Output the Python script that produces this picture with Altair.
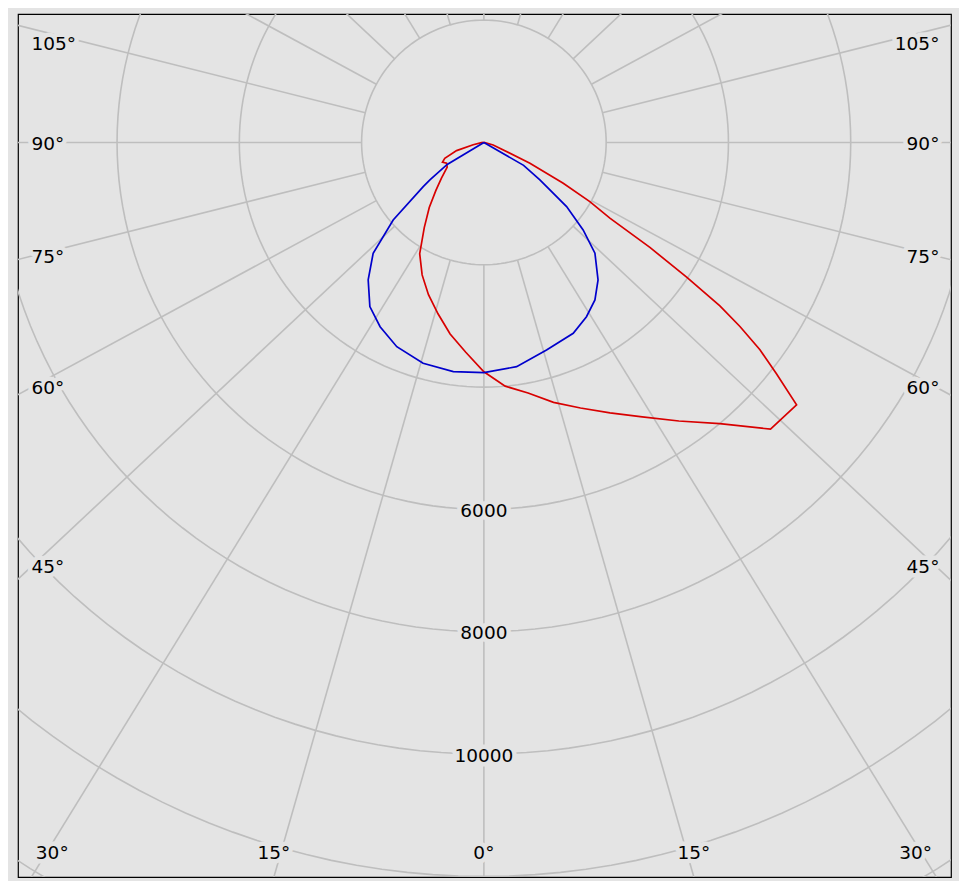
import altair as alt
import pandas as pd

# ---- data (angle in degrees, negative = left side; intensity in cd) ----
red_angle = [-90, -85, -77.9, -73.3, -68, -64.5, -61, -56, -50, -45, -40, -35, -30, -25, -20,
             -15, -10, -5, 0, 5, 10, 15, 20, 25, 30, 35, 40, 45, 50, 51.7, 53.1, 54.3, 55.3,
             56.4, 57.7, 59.0, 60.8, 62.8, 65.7, 75, 90]
red_value = [0, 40, 179, 466, 690, 750, 698, 724, 906, 1110, 1390, 1700, 2100, 2390, 2650,
             2900, 3180, 3440, 3750, 4000, 4160, 4400, 4620, 4880, 5180, 5560, 6000, 6630, 6676,
             6094, 5646, 5157, 4695, 3987, 3212, 2404, 1985, 1459, 826, 157, 0]

blue_angle = [-90, -62, -59, -55.2, -53.9, -49.5, -45, -40.1, -34.8, -29.4, -23.1, -15.4, -7.6, 0,
              8.3, 16.8, 25.1, 30.5, 35.2, 39.7, 45.1, 48.6, 52.2, 56.2, 60, 62, 90]
blue_value = [0, 0, 700, 1075, 1228, 1951, 2561, 2938, 3268, 3458, 3631, 3744, 3781, 3764,
              3705, 3545, 3445, 3306, 3151, 2923, 2564, 2164, 1712, 1102, 750, 0, 0]

ring_values = [2000, 4000, 6000, 8000, 10000, 12000, 14000, 16000]
ring_label_values = [6000, 8000, 10000]
spoke_angles = list(range(0, 360, 15))
angle_label_degs = [-105, -90, -75, -60, -45, -30, -15, 0, 15, 30, 45, 60, 75, 90, 105]

# ---- styling / layout ----
BG = "#e4e4e4"
GRID = "#bebebe"
FONT = "DejaVu Sans"
K = 0.937            # spokes in the original are drawn slightly squeezed vertically
KS = 0.965           # label placement factor on the side edges
X_DOMAIN = [-7620, 7640]
Y_DOMAIN = [-12010, 2100]
W, H = 933, 863
LX = 7160            # side-label reference distance
LXL, LXR = -7400, 7450   # left / right anchor of side labels
LY = 11600           # bottom label line
LYF = 12010          # bottom frame
LXB = 7060           # clamp for bottom labels
LTOP = 1635          # highest side label

xs = alt.Scale(domain=X_DOMAIN, nice=False, zero=False)
ys = alt.Scale(domain=Y_DOMAIN, nice=False, zero=False)


def X(f):
    return alt.X(f, type="quantitative", scale=xs, axis=None)


def Y(f):
    return alt.Y(f, type="quantitative", scale=ys, axis=None)


# rings
ring_df = pd.DataFrame([(r, p) for r in ring_values for p in range(0, 361, 2)], columns=["ring", "phi"])
rings = alt.Chart(ring_df).transform_calculate(
    x="datum.ring*sin(datum.phi*PI/180)",
    y="-datum.ring*cos(datum.phi*PI/180)",
).mark_line(clip=True, stroke=GRID, strokeWidth=1.6).encode(
    x=X("x"), y=Y("y"), detail="ring:N", order="phi:Q"
)

# spokes
spoke_df = pd.DataFrame({"deg": spoke_angles})
spokes = alt.Chart(spoke_df).transform_calculate(
    sx="sin(datum.deg*PI/180)",
    sy=f"-{K}*cos(datum.deg*PI/180)",
).transform_calculate(
    n="sqrt(datum.sx*datum.sx + datum.sy*datum.sy)"
).transform_calculate(
    x0="2000*datum.sx/datum.n", y0="2000*datum.sy/datum.n",
    x1="30000*datum.sx/datum.n", y1="30000*datum.sy/datum.n",
).mark_rule(clip=True, stroke=GRID, strokeWidth=1.6).encode(
    x=X("x0"), y=Y("y0"), x2="x1:Q", y2="y1:Q"
)

# angle labels: on the side edges, or on the bottom edge
alab_df = pd.DataFrame({"deg": angle_label_degs,
                        "label": [f"{abs(d)}°" for d in angle_label_degs]})
alab_base = alt.Chart(alab_df).transform_calculate(
    s="sin(datum.deg*PI/180)",
    c="cos(datum.deg*PI/180)",
).transform_calculate(
    side_y=f"-{LX}/max(abs(datum.s),1e-9)*{KS}*datum.c",
).transform_calculate(
    pos=f"datum.side_y >= -{LY} ? (datum.s < 0 ? 'left' : 'right') : 'bottom'",
    bx=f"clamp({LYF}*datum.s/({K}*abs(datum.c)), -{LXB}, {LXB})",
).transform_calculate(
    lx=f"datum.pos == 'left' ? {LXL} : (datum.pos == 'right' ? {LXR} : datum.bx)",
    ly=f"datum.pos == 'bottom' ? -{LY} : min(datum.side_y, {LTOP})",
).encode(x=X("lx"), y=Y("ly"), text="label:N")

txt = dict(font=FONT, fontSize=18.5, baseline="middle", dy=1.5)
halo = dict(stroke=BG, strokeWidth=9, strokeJoin="round", color=BG)

label_layers = []
for pos, align in [("left", "left"), ("right", "right"), ("bottom", "center")]:
    part = alab_base.transform_filter(f"datum.pos == '{pos}'")
    label_layers.append(part.mark_text(align=align, **txt, **halo))
    label_layers.append(part.mark_text(align=align, **txt, color="black"))

# ring labels
rlab_df = pd.DataFrame({"v": ring_label_values})
rlab_base = alt.Chart(rlab_df).transform_calculate(
    rx="0", ry="-datum.v"
).encode(x=X("rx"), y=Y("ry"), text=alt.Text("v:Q", format="d"))
rlab_halo = rlab_base.mark_text(align="center", **txt, **halo)
rlab_text = rlab_base.mark_text(align="center", **txt, color="black")

# curves
curve_df = pd.concat([
    pd.DataFrame({"angle": red_angle, "cd": red_value, "plane": "C0-C180"}),
    pd.DataFrame({"angle": blue_angle, "cd": blue_value, "plane": "C90-C270"}),
], ignore_index=True)
curves = alt.Chart(curve_df).transform_calculate(
    x="datum.cd*sin(datum.angle*PI/180)",
    y="-datum.cd*cos(datum.angle*PI/180)",
).mark_line(clip=True, strokeWidth=1.7, interpolate="linear").encode(
    x=X("x"), y=Y("y"),
    color=alt.Color("plane:N", scale=alt.Scale(domain=["C0-C180", "C90-C270"],
                                                range=["#d80000", "#0000cc"]), legend=None),
    order="angle:Q",
)

chart = alt.layer(
    rings, spokes, rlab_halo, rlab_text, *label_layers, curves
).properties(
    width=W, height=H,
    padding={"left": 10, "top": 6, "right": 8, "bottom": 4},
    autosize="none",
    background=BG,
).configure_view(stroke="black", strokeWidth=1.2, fill=BG)

chart.save("out.html", embed_options={"renderer": "svg", "actions": False})
